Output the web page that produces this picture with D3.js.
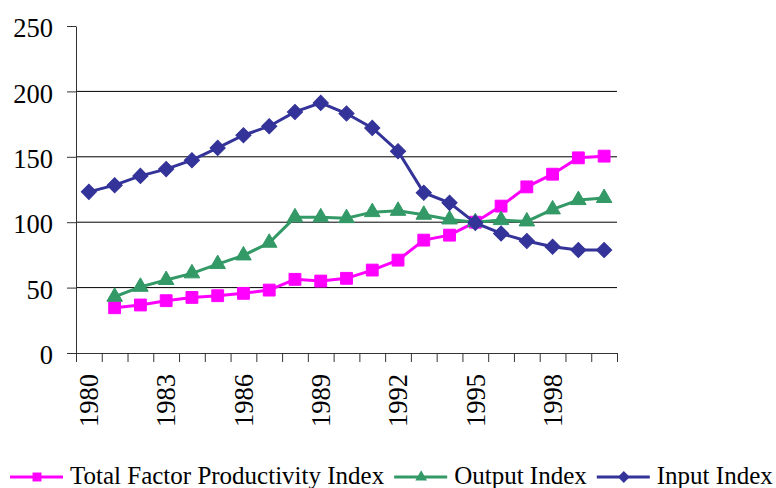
<!DOCTYPE html>
<html>
<head>
<meta charset="utf-8">
<script src="https://d3js.org/d3.v7.min.js"></script>
<style>
  body { margin: 0; background: white; }
  svg { display: block; }
</style>
</head>
<body>
<svg id="chart"></svg>
<script>
var WIDTH = 776,
    HEIGHT = 488,
    PLOT = {left: 76, right: 617, top: 26, bottom: 353},
    FONT = "'Liberation Serif', 'Times New Roman', serif",
    TFP_COLOR = "#FF00FF",
    OUTPUT_COLOR = "#339966",
    INPUT_COLOR = "#333399";

// data
var years = [1980, 1981, 1982, 1983, 1984, 1985, 1986, 1987, 1988, 1989, 1990,
             1991, 1992, 1993, 1994, 1995, 1996, 1997, 1998, 1999, 2000];
var tfpIndex = [null, 34.6, 36.7, 40.0, 42.5, 43.8, 45.6, 48.1, 56.3, 55.0, 57.1,
                63.4, 71.0, 86.3, 90.1, 100.0, 112.3, 127.0, 136.7, 149.2, 150.5];
var outputIndex = [null, 43.0, 50.6, 55.8, 60.9, 68.0, 74.6, 84.3, 103.7, 103.7, 103.1,
                   107.7, 108.7, 105.7, 102.1, 100.0, 101.6, 100.6, 109.8, 116.9, 118.5];
var inputIndex = [123.2, 128.3, 135.4, 140.6, 147.4, 156.8, 166.5, 173.4, 184.3, 191.2, 183.1,
                  172.1, 154.3, 122.5, 114.8, 99.5, 91.4, 85.6, 81.2, 78.7, 78.7];
var yTicks = [0, 50, 100, 150, 200, 250];
var gridValues = [50, 100, 150, 200];
var yearLabels = [1980, 1983, 1986, 1989, 1992, 1995, 1998];
var seriesNames = ["Total Factor Productivity Index", "Output Index", "Input Index"];

// diamond = square turned 45 degrees (Excel style)
var series = [
    {name: seriesNames[0], values: tfpIndex, color: TFP_COLOR, shape: d3.symbolSquare, size: 140, legendSize: 80, rot: 0},
    {name: seriesNames[1], values: outputIndex, color: OUTPUT_COLOR, shape: d3.symbolTriangle, size: 105, legendSize: 60, rot: 0},
    {name: seriesNames[2], values: inputIndex, color: INPUT_COLOR, shape: d3.symbolSquare, size: 115, legendSize: 70, rot: 45}
];

var x = d3.scaleLinear()
    .domain([years[0] - 0.5, years[years.length - 1] + 0.5])
    .range([PLOT.left, PLOT.right]);
var y = d3.scaleLinear()
    .domain([0, 250])
    .range([PLOT.bottom, PLOT.top]);

var svg = d3.select("#chart")
    .attr("width", WIDTH)
    .attr("height", HEIGHT)
    .style("font-family", FONT);

// gridlines
svg.append("g")
    .attr("class", "grid")
  .selectAll("line")
    .data(gridValues)
  .enter().append("line")
    .attr("x1", PLOT.left)
    .attr("x2", PLOT.right)
    .attr("y1", function(d) { return y(d); })
    .attr("y2", function(d) { return y(d); })
    .style("stroke", "#000")
    .style("stroke-width", 1);

// y axis
var yAxis = svg.append("g")
    .attr("transform", "translate(" + PLOT.left + ",0)")
    .call(d3.axisLeft(y).tickValues(yTicks).tickSize(9).tickPadding(14).tickSizeOuter(0));
yAxis.select(".domain").style("stroke", "#333");
yAxis.selectAll(".tick line").style("stroke", "#333");
yAxis.selectAll("text")
    .attr("dy", "0.4em")
    .style("font-family", FONT)
    .style("font-size", "26.5px")
    .style("fill", "#000");

// x axis: ticks between categories
var boundaries = years.map(function(d) { return d - 0.5; }).concat([years[years.length - 1] + 0.5]);
var xAxis = svg.append("g")
    .attr("transform", "translate(0," + PLOT.bottom + ")")
    .call(d3.axisBottom(x).tickValues(boundaries).tickSize(9).tickSizeOuter(0).tickFormat(""));
xAxis.select(".domain").style("stroke", "#333");
xAxis.selectAll(".tick line").style("stroke", "#333");

var xLabels = svg.append("g")
    .attr("transform", "translate(0," + PLOT.bottom + ")")
    .call(d3.axisBottom(x).tickValues(yearLabels).tickSize(0).tickFormat(d3.format("d")));
xLabels.select(".domain").remove();
xLabels.selectAll("text")
    .attr("transform", "rotate(-90)")
    .attr("x", -21)
    .attr("y", 0)
    .attr("dy", "0.33em")
    .style("text-anchor", "end")
    .style("font-family", FONT)
    .style("font-size", "26.5px")
    .style("fill", "#000");

// series
var line = d3.line()
    .defined(function(d) { return d.v != null; })
    .x(function(d) { return x(d.year); })
    .y(function(d) { return y(d.v); });

series.forEach(function(s) {
    var pts = years.map(function(yr, i) { return {year: yr, v: s.values[i]}; });
    var g = svg.append("g").attr("class", "series");
    g.append("path")
        .datum(pts)
        .attr("d", line)
        .style("fill", "none")
        .style("stroke", s.color)
        .style("stroke-width", 3);
    g.selectAll("path.marker")
        .data(pts.filter(function(d) { return d.v != null; }))
      .enter().append("path")
        .attr("class", "marker")
        .attr("d", d3.symbol().type(s.shape).size(s.size))
        .attr("transform", function(d) {
            return "translate(" + x(d.year) + "," + y(d.v) + ") rotate(" + s.rot + ")";
        })
        .style("fill", s.color)
        .style("stroke", s.color)
        .style("stroke-width", 1);
});

// legend
var legend = svg.append("g").attr("class", "legend");
var lx = 10, ly = 477;
series.forEach(function(s) {
    var item = legend.append("g");
    item.append("line")
        .attr("x1", lx)
        .attr("x2", lx + 53)
        .attr("y1", ly)
        .attr("y2", ly)
        .style("stroke", s.color)
        .style("stroke-width", 3);
    item.append("path")
        .attr("d", d3.symbol().type(s.shape).size(s.legendSize))
        .attr("transform", "translate(" + (lx + 27) + "," + ly + ") rotate(" + s.rot + ")")
        .style("fill", s.color);
    var t = item.append("text")
        .attr("x", lx + 60)
        .attr("y", ly + 7)
        .style("font-family", FONT)
        .style("font-size", "25px")
        .style("fill", "#000")
        .text(s.name);
    lx = lx + 60 + t.node().getComputedTextLength() + 10;
});
</script>
</body>
</html>
